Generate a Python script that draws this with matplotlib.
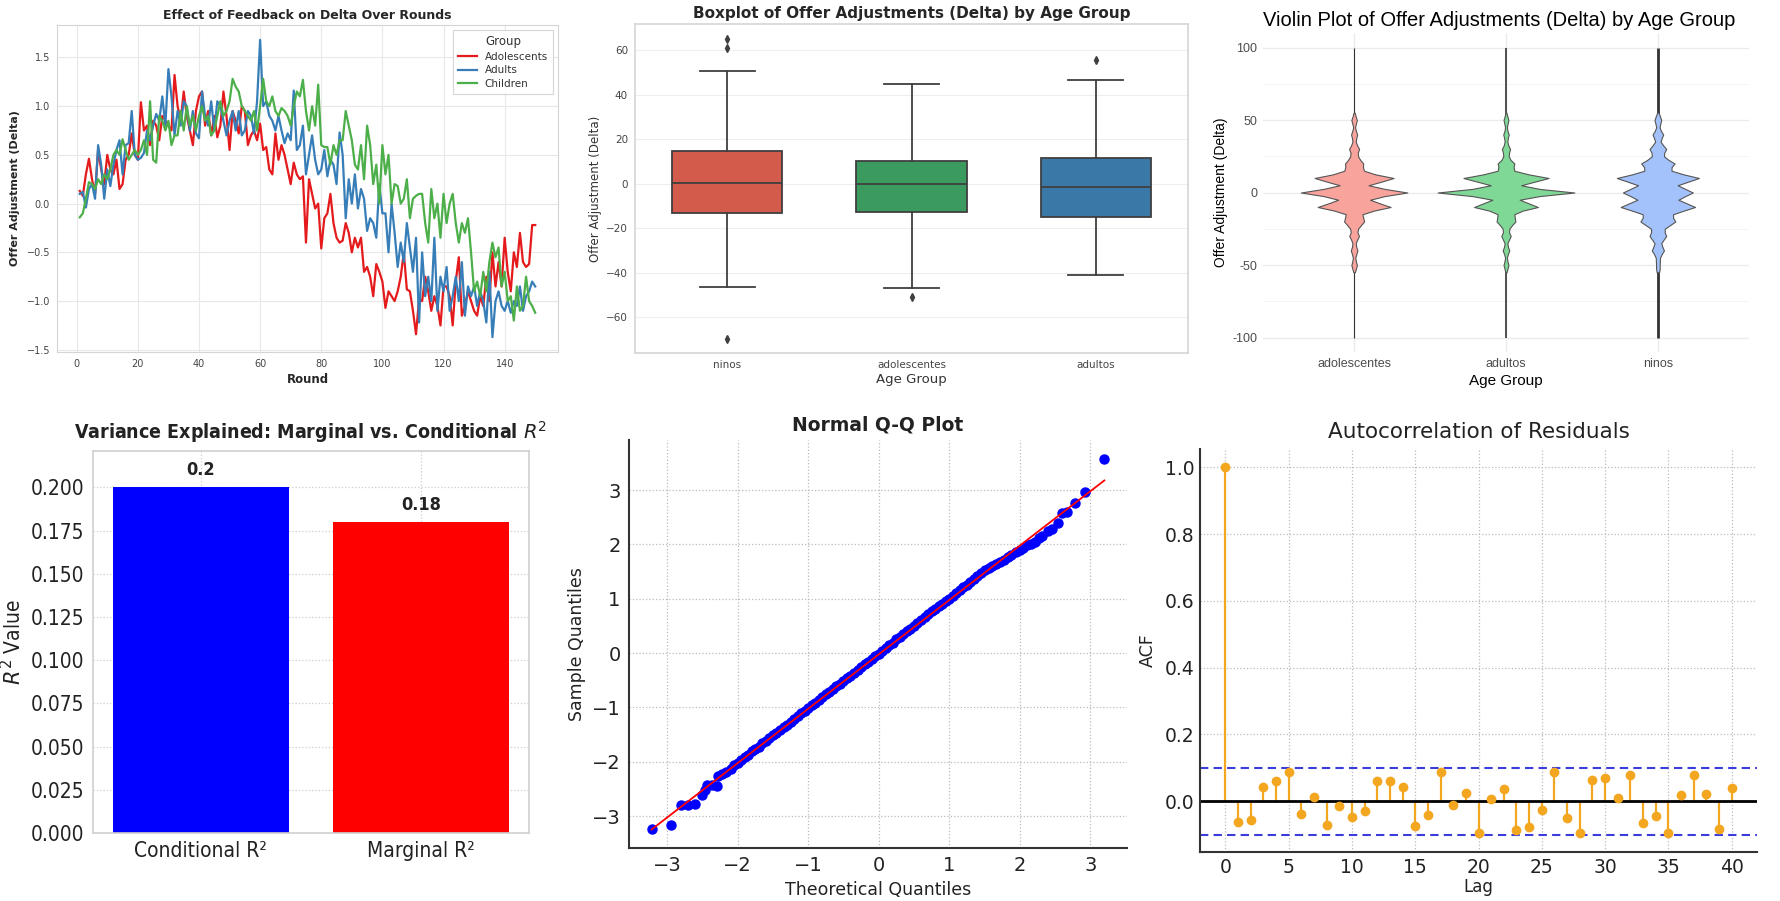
import matplotlib
matplotlib.use('Agg')
import matplotlib.pyplot as plt
import numpy as np
from matplotlib import font_manager as fm

W, H = 1780, 901

# ---------------- data ----------------
rounds = list(range(1, 151))
adolescents = [0.13, 0.08, 0.3, 0.46, 0.25, 0.1, 0.55, 0.35, 0.2, 0.5,
               0.35, 0.3, 0.45, 0.15, 0.2, 0.45, 0.5, 0.72, 0.5, 0.45,
               1.04, 0.75, 0.8, 0.6, 0.85, 0.8, 0.65, 0.9, 0.85, 0.8,
               0.75, 1.32, 1.0, 0.85, 1.15, 0.9, 0.75, 0.6, 0.95, 1.1,
               1.15, 0.8, 0.95, 0.7, 0.9, 0.68, 0.8, 1.15, 0.9, 0.55,
               0.95, 0.85, 0.72, 1.0, 0.95, 0.6, 0.7, 0.75, 0.65, 0.82,
               0.55, 0.58, 0.35, 0.3, 0.72, 0.45, 0.6, 0.5, 0.35, 0.2,
               0.42, 0.3, 0.25, 0.28, -0.4, 0.25, 0.1, -0.05, 0.0, -0.46,
               -0.15, -0.1, 0.1, -0.2, -0.35, -0.4, -0.38, -0.2, -0.3, -0.5,
               -0.35, -0.45, -0.35, -0.7, -0.65, -0.75, -0.95, -0.62, -0.7, -0.8,
               -1.07, -0.9, -0.95, -1.0, -0.9, -0.75, -0.5, -0.88, -0.9, -1.1,
               -1.34, -0.98, -1.0, -0.75, -0.9, -1.1, -0.95, -1.05, -1.25, -0.85,
               -0.85, -0.95, -1.25, -0.8, -0.55, -1.15, -1.05, -0.9, -1.0, -1.1,
               -1.15, -0.95, -1.05, -0.75, -1.0, -0.5, -0.85, -0.6, -0.85, -0.35,
               -0.7, -0.9, -0.5, -0.65, -0.3, -0.6, -0.65, -0.62, -0.22, -0.22]
adults = [0.1, 0.12, -0.04, 0.15, 0.2, 0.05, 0.6, 0.4, 0.05, 0.35,
          0.18, 0.4, 0.55, 0.65, 0.3, 0.6, 0.62, 0.95, 0.5, 0.45,
          0.47, 0.52, 0.75, 0.65, 0.8, 0.92, 0.85, 1.1, 0.8, 1.38,
          1.1, 0.7, 0.95, 0.8, 1.05, 1.0, 0.75, 0.95, 0.72, 0.67,
          1.15, 0.9, 0.8, 1.05, 0.75, 1.05, 1.0, 0.85, 0.7, 0.85,
          0.95, 0.75, 0.95, 0.7, 0.75, 0.95, 0.9, 0.72, 1.05, 1.68,
          1.0, 1.05, 0.9, 0.85, 0.75, 0.9, 0.75, 0.62, 0.72, 0.65,
          1.16, 0.55, 0.6, 0.8, 0.3, 0.5, 0.7, 0.45, 0.3, 0.35,
          0.55, 0.28, 0.45, 0.4, 0.2, 0.73, 0.5, -0.15, 0.25, 0.0,
          0.3, -0.05, 0.15, 0.05, -0.28, -0.15, -0.2, -0.35, 0.2, -0.1,
          -0.1, -0.5, 0.0, -0.3, -0.65, -0.4, -0.6, -0.2, -0.45, -0.7,
          -0.35, -1.22, -0.5, -0.95, -0.75, -1.0, -0.35, -1.1, -0.75, -0.9,
          -0.65, -1.1, -0.95, -0.75, -1.0, -0.6, -1.15, -0.85, -0.95, -0.85,
          -1.05, -0.9, -1.0, -1.22, -0.7, -1.37, -1.0, -0.9, -1.05, -1.1,
          -1.0, -1.12, -1.0, -1.05, -0.85, -1.1, -0.95, -0.9, -0.8, -0.85]
children = [-0.14, -0.1, 0.05, 0.22, 0.2, 0.15, 0.25, 0.2, 0.3, 0.25,
            0.35, 0.5, 0.55, 0.5, 0.66, 0.55, 0.45, 0.5, 0.55, 0.5,
            0.55, 0.65, 0.5, 1.05, 0.45, 0.42, 0.9, 0.85, 0.75, 0.85,
            0.6, 0.7, 0.7, 0.95, 0.75, 1.0, 0.8, 0.9, 0.75, 0.9,
            1.0, 0.85, 0.9, 0.7, 0.75, 0.9, 1.05, 0.9, 0.95, 1.05,
            1.28, 1.2, 1.15, 1.0, 0.95, 0.9, 0.85, 0.95, 0.75, 1.0,
            1.28, 1.05, 1.0, 1.1, 0.95, 0.9, 0.98, 0.95, 0.9, 0.8,
            1.0, 1.15, 1.1, 1.27, 0.95, 0.75, 1.0, 0.8, 1.22, 0.6,
            0.58, 0.58, 0.4, 0.6, 0.5, 0.65, 0.65, 0.95, 0.8, 0.65,
            0.4, 0.35, 0.6, 0.25, 0.8, 0.6, 0.2, 0.4, 0.0, 0.6,
            0.3, 0.5, 0.0, 0.2, 0.18, 0.0, 0.05, 0.25, -0.15, 0.05,
            0.08, 0.1, 0.1, -0.2, -0.4, 0.15, -0.15, 0.0, -0.35, 0.1,
            -0.2, 0.0, 0.1, -0.2, -0.4, -0.2, -0.3, -0.15, -0.5, -0.9,
            -0.8, -0.95, -0.7, -0.9, -0.6, -0.4, -0.55, -0.45, -0.85, -0.7,
            -1.0, -0.95, -1.2, -0.85, -1.1, -1.05, -0.75, -1.0, -1.05, -1.12]

# boxplot summary stats (ninos, adolescentes, adultos)
box_groups = ['ninos', 'adolescentes', 'adultos']
box_q1 = [-13.0, -12.9, -14.8]
box_med = [0.1, -0.2, -1.6]
box_q3 = [14.7, 10.2, 11.7]
box_whislo = [-46.4, -46.8, -41.3]
box_whishi = [50.7, 44.9, 46.8]
box_fliers = [[65.2, 61.2, -69.7], [-51.2], [55.5]]

# violin half-widths (fraction of category spacing) at these levels
violin_groups = ['adolescentes', 'adultos', 'ninos']
violin_levels = [-55, -52.5, -50, -47.5, -45, -42.5, -40, -37.5, -35, -32.5, -30,
                 -27.5, -25, -22.5, -20, -17.5, -15, -12.5, -10, -7.5, -5, -2.5,
                 0, 2.5, 5, 7.5, 10, 12.5, 15, 17.5, 20, 22.5, 25, 27.5, 30,
                 32.5, 35, 37.5, 40, 42.5, 45, 47.5, 50, 52.5, 55]
violin_adol = [0.005, 0.012, 0.018, 0.012, 0.008, 0.014, 0.022, 0.014, 0.011, 0.02, 0.032,
               0.022, 0.026, 0.045, 0.066, 0.06, 0.055, 0.13, 0.24, 0.17, 0.105, 0.2,
               0.35, 0.2, 0.095, 0.18, 0.26, 0.14, 0.065, 0.058, 0.06, 0.04, 0.026, 0.024, 0.033,
               0.02, 0.011, 0.014, 0.02, 0.012, 0.006, 0.012, 0.018, 0.01, 0.004]
violin_adul = [0.004, 0.01, 0.016, 0.01, 0.006, 0.012, 0.022, 0.013, 0.009, 0.02, 0.031,
               0.02, 0.022, 0.04, 0.062, 0.058, 0.055, 0.11, 0.21, 0.15, 0.09, 0.22,
               0.45, 0.22, 0.1, 0.19, 0.28, 0.15, 0.055, 0.05, 0.055, 0.03, 0.018, 0.02, 0.027,
               0.015, 0.009, 0.012, 0.018, 0.01, 0.006, 0.011, 0.016, 0.009, 0.003]
violin_nin = [0.008, 0.012, 0.012, 0.013, 0.014, 0.025, 0.04, 0.03, 0.022, 0.038, 0.055,
              0.045, 0.045, 0.08, 0.115, 0.1, 0.1, 0.17, 0.245, 0.19, 0.135, 0.18,
              0.23, 0.18, 0.13, 0.2, 0.27, 0.17, 0.09, 0.09, 0.11, 0.07, 0.04, 0.042, 0.055,
              0.035, 0.018, 0.025, 0.035, 0.02, 0.011, 0.016, 0.022, 0.014, 0.005]
violin_min = [-100, -100, -100]
violin_max = [100, 100, 100]

# R^2
r2_labels = ['Conditional R²', 'Marginal R²']
r2_values = [0.2, 0.18]

# Q-Q plot (theoretical, sample)
qq_theoretical = [-3.22, -2.95, -2.81, -2.70, -2.61, -2.51, -2.47, -2.44, -2.37, -2.30, -2.28,
                  -2.22, -2.17, -2.10, -2.05, -2.00, -1.95, -1.90, -1.85, -1.80, -1.75,
                  -1.70, -1.65, -1.60, -1.55, -1.50, -1.45, -1.40, -1.35, -1.30, -1.25,
                  -1.20, -1.15, -1.10, -1.05, -1.00, -0.95, -0.90, -0.85, -0.80, -0.75,
                  -0.70, -0.65, -0.60, -0.55, -0.50, -0.45, -0.40, -0.35, -0.30, -0.25,
                  -0.20, -0.15, -0.10, -0.05, 0.00, 0.05, 0.10, 0.15, 0.20, 0.25,
                  0.30, 0.35, 0.40, 0.45, 0.50, 0.55, 0.60, 0.65, 0.70, 0.75,
                  0.80, 0.85, 0.90, 0.95, 1.00, 1.05, 1.10, 1.15, 1.20, 1.25,
                  1.30, 1.35, 1.40, 1.45, 1.51, 1.56, 1.61, 1.67, 1.72, 1.77,
                  1.83, 1.88, 1.94, 2.00, 2.05, 2.10, 2.16, 2.21, 2.27, 2.32,
                  2.40, 2.46, 2.54, 2.60, 2.67, 2.78, 2.93, 3.20]
qq_sample = [-3.24, -3.17, -2.79, -2.79, -2.78, -2.61, -2.52, -2.43, -2.42, -2.44, -2.27,
             -2.22, -2.18, -2.13, -2.06, -2.02, -1.97, -1.91, -1.87, -1.81, -1.77,
             -1.72, -1.66, -1.62, -1.56, -1.50, -1.47, -1.41, -1.36, -1.32, -1.26,
             -1.22, -1.16, -1.11, -1.07, -1.01, -0.96, -0.92, -0.86, -0.81, -0.76,
             -0.72, -0.66, -0.61, -0.56, -0.51, -0.46, -0.42, -0.36, -0.31, -0.26,
             -0.21, -0.17, -0.11, -0.06, -0.01, 0.04, 0.09, 0.14, 0.19, 0.25,
             0.29, 0.35, 0.40, 0.45, 0.50, 0.56, 0.61, 0.66, 0.71, 0.77,
             0.81, 0.87, 0.91, 0.96, 1.00, 1.05, 1.10, 1.16, 1.21, 1.26,
             1.31, 1.37, 1.42, 1.47, 1.53, 1.57, 1.61, 1.64, 1.68, 1.72,
             1.77, 1.81, 1.86, 1.90, 1.94, 1.98, 2.00, 2.05, 2.12, 2.16,
             2.24, 2.29, 2.40, 2.57, 2.60, 2.77, 2.97, 3.58]

# ACF
acf_lags = list(range(41))
acf_values = [1.0, -0.063, -0.056, 0.042, 0.060, 0.089, -0.038, 0.013, -0.070, -0.013,
              -0.046, -0.030, 0.061, 0.061, 0.042, -0.075, -0.042, 0.088, -0.011, 0.025,
              -0.095, 0.007, 0.038, -0.087, -0.076, -0.026, 0.089, -0.050, -0.095, 0.063,
              0.070, 0.010, 0.079, -0.065, -0.043, -0.095, 0.018, 0.078, 0.022, -0.082,
              0.040]
acf_conf = 0.1

# ---------------- fonts ----------------
ttf = fm.fontManager.ttflist
if any(f.name == 'DejaVu Sans' and str(f.stretch) in ('condensed', 'semi-condensed', '87.5') for f in ttf):
    NARROW = dict(family='DejaVu Sans', fontstretch='condensed')
elif any(f.name == 'Liberation Sans Narrow' for f in ttf):
    NARROW = dict(family='Liberation Sans Narrow')
else:
    NARROW = dict(family='DejaVu Sans')

plt.rcParams['font.family'] = ['DejaVu Sans']


def box(l, t, r, b):
    return [l / W, 1 - b / H, (r - l) / W, (b - t) / H]


fig = plt.figure(figsize=(W / 100, H / 100), dpi=100)
fig.patch.set_facecolor('white')

# ---------------- panel 1: line chart ----------------
ax1 = fig.add_axes(box(57, 25, 558, 352))
for vals, name, col in [(adolescents, 'Adolescents', '#e41a1c'),
                        (adults, 'Adults', '#377eb8'),
                        (children, 'Children', '#4daf4a')]:
    ax1.plot(rounds, vals, color=col, lw=1.6, label=name)
ax1.set_title('Effect of Feedback on Delta Over Rounds', fontsize=9, fontweight='bold',
              color='#262626', pad=4)
ax1.set_xlabel('Round', fontsize=8.5, fontweight='bold', color='#262626', labelpad=3)
ax1.set_ylabel('Offer Adjustment (Delta)', fontsize=8, fontweight='bold', color='#262626', labelpad=5)
ax1.set_xticks([0, 20, 40, 60, 80, 100, 120, 140])
ax1.set_yticks([-1.5, -1.0, -0.5, 0.0, 0.5, 1.0, 1.5])
ax1.tick_params(labelsize=7, colors='#444444', length=0, pad=5)
ax1.grid(True, color='#e8e8e8', lw=0.8)
ax1.set_axisbelow(True)
for s in ax1.spines.values():
    s.set_color('#d5d5d5')
leg = ax1.legend(title='Group', loc='upper right', fontsize=7.5, title_fontsize=8.5,
                 frameon=True, edgecolor='#cccccc', fancybox=False, handlelength=1.8,
                 labelspacing=0.35, borderpad=0.45)
leg.get_frame().set_linewidth(0.8)
for t in leg.get_texts():
    t.set_color('#333333')
leg.get_title().set_color('#333333')

# ---------------- panel 2: boxplot ----------------
ax2 = fig.add_axes(box(635, 24, 1188, 353))
box_colors = ['#d35b4b', '#3b9b5e', '#3a78a8']
stats = []
for i in range(3):
    stats.append(dict(med=box_med[i], q1=box_q1[i], q3=box_q3[i], whislo=box_whislo[i],
                      whishi=box_whishi[i], fliers=box_fliers[i], label=box_groups[i]))
lc = '#3f3f3f'
bp = ax2.bxp(stats, positions=[0, 1, 2], widths=0.6, patch_artist=True,
             boxprops=dict(edgecolor=lc, lw=1.3),
             medianprops=dict(color=lc, lw=1.3),
             whiskerprops=dict(color=lc, lw=1.3),
             capprops=dict(color=lc, lw=1.3),
             flierprops=dict(marker='d', markerfacecolor=lc, markeredgecolor=lc, markersize=4))
for patch, c in zip(bp['boxes'], box_colors):
    patch.set_facecolor(c)
ax2.set_xlim(-0.5, 2.5)
ax2.set_ylim(-76.2, 71.8)
ax2.set_yticks([-60, -40, -20, 0, 20, 40, 60])
ax2.set_title('Boxplot of Offer Adjustments (Delta) by Age Group', fontsize=11,
              fontweight='bold', color='#262626', pad=4)
ax2.set_xlabel('Age Group', fontsize=9.5, color='#333333', labelpad=2)
ax2.set_ylabel('Offer Adjustment (Delta)', fontsize=8.5, color='#333333', labelpad=3)
ax2.tick_params(labelsize=7.5, colors='#444444', length=0, pad=5)
ax2.yaxis.grid(True, color='#eeeeee', lw=0.8)
ax2.set_axisbelow(True)
for s in ax2.spines.values():
    s.set_color('#d5d5d5')
    s.set_linewidth(1.2)

# ---------------- panel 3: violin ----------------
ax3 = fig.add_axes(box(1263, 33, 1749, 352))
vfills = ['#f9a39d', '#7fd895', '#a3c2fb']
vlw = [0.8, 1.2, 2.0]
for i, hw in enumerate([violin_adol, violin_adul, violin_nin]):
    ax3.vlines(i, violin_min[i], violin_max[i], color='#333333', lw=vlw[i], zorder=2)
    hw = np.array(hw)
    ax3.fill_betweenx(violin_levels, i - hw, i + hw, facecolor=vfills[i],
                      edgecolor='#555555', lw=0.8, zorder=3)
ax3.set_xlim(-0.6, 2.6)
ax3.set_ylim(-110, 110)
ax3.set_xticks([0, 1, 2])
ax3.set_xticklabels(violin_groups)
ax3.set_yticks([-100, -50, 0, 50, 100])
ax3.set_yticklabels(['-100', '-50', '0', '50', '100'])
ax3.set_yticks([-75, -25, 25, 75], minor=True)
ax3.grid(True, which='major', color='#ebebeb', lw=1.0)
ax3.grid(True, which='minor', axis='y', color='#f3f3f3', lw=0.6)
ax3.set_axisbelow(True)
for s in ax3.spines.values():
    s.set_visible(False)
ax3.tick_params(which='both', length=0, labelsize=9, colors='#4d4d4d', pad=4)
for t in ax3.get_xticklabels() + ax3.get_yticklabels():
    t.set_family('Liberation Sans')
ax3.set_title('Violin Plot of Offer Adjustments (Delta) by Age Group', loc='left',
              fontsize=14.5, family='Liberation Sans', color='black', pad=5)
ax3.set_xlabel('Age Group', fontsize=11, family='Liberation Sans', color='black', labelpad=3)
ax3.set_ylabel('Offer Adjustment (Delta)', fontsize=10, family='Liberation Sans',
               color='black', labelpad=3)

# ---------------- panel 4: R^2 bars ----------------
ax4 = fig.add_axes(box(93, 451, 529, 833))
xpos = np.arange(len(r2_values))
ax4.bar(xpos, r2_values, width=0.8, color=['#0000ff', '#ff0000'], zorder=2)
for x, v in zip(xpos, r2_values):
    ax4.annotate(f'{v:g}', (x, v), xytext=(0, 6), textcoords='offset points',
                 ha='center', va='bottom', fontsize=13, fontweight='bold', color='#222222', **NARROW)
ax4.set_ylim(0, 0.221)
ax4.set_xticks(xpos)
ax4.set_xticklabels(r2_labels)
ax4.set_yticks([0, 0.025, 0.05, 0.075, 0.1, 0.125, 0.15, 0.175, 0.2])
ax4.set_yticklabels(['0.000', '0.025', '0.050', '0.075', '0.100', '0.125', '0.150', '0.175', '0.200'])
for t in ax4.get_xticklabels() + ax4.get_yticklabels():
    t.set_fontsize(15)
    t.set_color('#222222')
    for k, v in NARROW.items():
        getattr(t, 'set_' + k)(v)
ax4.tick_params(length=0, pad=6)
ax4.set_title('Variance Explained: Marginal vs. Conditional $R^2$', fontsize=14,
              fontweight='bold', color='#222222', pad=9, **NARROW)
ax4.set_ylabel('$R^2$ Value', fontsize=15, color='#222222', labelpad=4, **NARROW)
ax4.grid(True, ls=':', color='#cccccc', lw=0.9, zorder=0)
ax4.set_axisbelow(True)
for s in ax4.spines.values():
    s.set_color('#d0d0d0')
    s.set_linewidth(1.2)

# ---------------- panel 5: Q-Q ----------------
ax5 = fig.add_axes(box(629, 440, 1127, 848))
ax5.plot(qq_theoretical, qq_sample, 'o', color='#0000ff', ms=6.5, zorder=2)
slope, intercept = np.polyfit(qq_theoretical, qq_sample, 1)
xl = np.array([min(qq_theoretical), max(qq_theoretical)])
ax5.plot(xl, slope * xl + intercept, color='#ff0000', lw=1.3, zorder=3)
ax5.set_title('Normal Q-Q Plot', fontsize=13.5, fontweight='bold', color='#222222', pad=7)
ax5.set_xlabel('Theoretical Quantiles', fontsize=12.5, color='#222222', labelpad=4)
ax5.set_ylabel('Sample Quantiles', fontsize=12.5, color='#222222', labelpad=4)
ax5.set_xticks([-3, -2, -1, 0, 1, 2, 3])
ax5.set_yticks([-3, -2, -1, 0, 1, 2, 3])
ax5.tick_params(labelsize=14, colors='#222222', length=0, pad=6)
ax5.grid(True, ls=':', color='#bbbbbb', lw=0.9)
ax5.set_axisbelow(True)
for k in ['top', 'right']:
    ax5.spines[k].set_visible(False)
for k in ['left', 'bottom']:
    ax5.spines[k].set_color('#333333')
    ax5.spines[k].set_linewidth(1.5)

# ---------------- panel 6: ACF ----------------
ax6 = fig.add_axes(box(1200, 449, 1757, 852))
acf_col = '#f3a61f'
ax6.vlines(acf_lags, 0, acf_values, color=acf_col, lw=1.6, zorder=2)
ax6.plot(acf_lags, acf_values, 'o', color=acf_col, ms=6, zorder=3)
ax6.axhline(0, color='black', lw=2, zorder=2)
ax6.axhline(acf_conf, color='#3c3cdc', ls='--', lw=1.5, dashes=(4, 2.5), zorder=1)
ax6.axhline(-acf_conf, color='#3c3cdc', ls='--', lw=1.5, dashes=(4, 2.5), zorder=1)
ax6.set_xlim(-2, 42)
ax6.set_ylim(-0.152, 1.055)
ax6.set_xticks([0, 5, 10, 15, 20, 25, 30, 35, 40])
ax6.set_yticks([0.0, 0.2, 0.4, 0.6, 0.8, 1.0])
ax6.tick_params(labelsize=13.5, colors='#222222', length=0, pad=4)
ax6.set_title('Autocorrelation of Residuals', fontsize=15.5, color='#222222', pad=8)
ax6.set_xlabel('Lag', fontsize=12, color='#222222', labelpad=1)
ax6.set_ylabel('ACF', fontsize=12.5, color='#222222', labelpad=6)
ax6.grid(True, ls=':', color='#bbbbbb', lw=0.9)
ax6.set_axisbelow(True)
for k in ['top', 'right']:
    ax6.spines[k].set_visible(False)
for k in ['left', 'bottom']:
    ax6.spines[k].set_color('#333333')
    ax6.spines[k].set_linewidth(1.5)

fig.savefig('out.png', dpi=100, facecolor='white')
